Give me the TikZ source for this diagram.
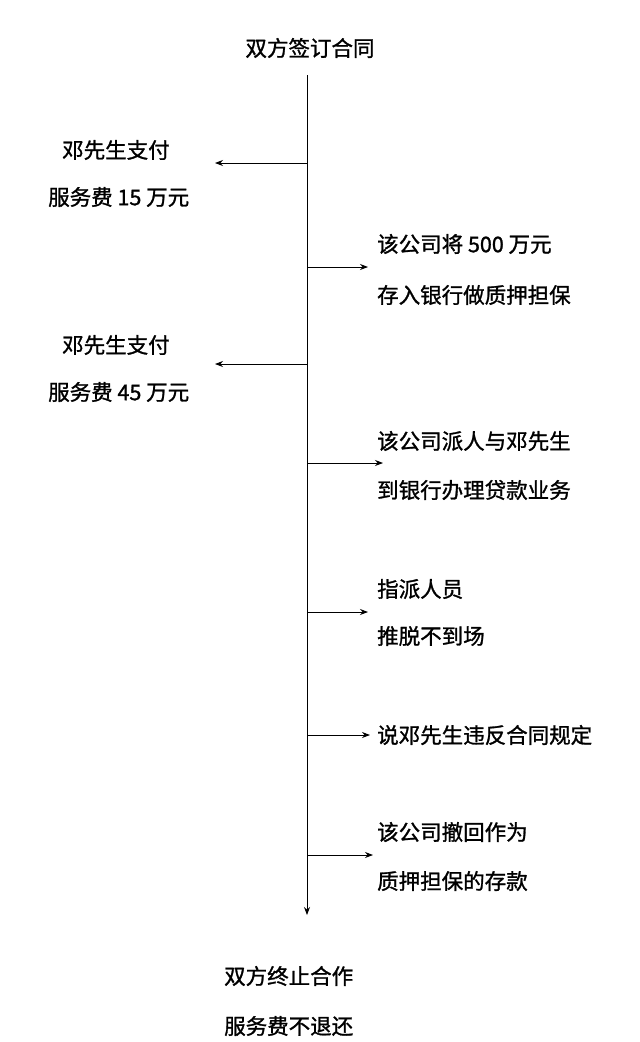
\documentclass[tikz,border=0pt]{standalone}
\usepackage{fontspec}
\usetikzlibrary{arrows.meta}
\newfontfamily\cjk[FakeBold=1.2]{Noto Sans CJK SC}
\begin{document}
\begin{tikzpicture}[x=1pt,y=-1pt,
  lbl/.style={font=\cjk\fontsize{21.5}{21.5}\selectfont, anchor=west, inner sep=0pt},
  arr/.style={-{Stealth[length=8pt,width=6pt]}, line width=0.8pt}]
\useasboundingbox (0,0) rectangle (640,1042);
\node[lbl,anchor=center] (top) at (310,48) {双方签订合同};
\coordinate (s) at (307,75);
\coordinate (e) at (307,915);
\draw[arr] (s) -- (e);
\foreach \y/\x [count=\i] in {163/215,267/368,364/215,463/383,612/368,735/370,855/373}{
  \coordinate (p\i) at (307,\y);
  \coordinate (q\i) at (\x,\y);
  \draw[arr] (p\i) -- (q\i);
}
\node[lbl] (a1) at (62,150) {邓先生支付};
\node[lbl] (a2) at (48,197) {服务费 15 万元};
\node[lbl] (b1) at (377,244) {该公司将 500 万元};
\node[lbl] (b2) at (377,295) {存入银行做质押担保};
\node[lbl] (c1) at (62,345) {邓先生支付};
\node[lbl] (c2) at (48,392) {服务费 45 万元};
\node[lbl] (d1) at (377,441) {该公司派人与邓先生};
\node[lbl] (d2) at (377,490) {到银行办理贷款业务};
\node[lbl] (f1) at (377,589) {指派人员};
\node[lbl] (f2) at (377,636) {推脱不到场};
\node[lbl] (g1) at (377,735) {说邓先生违反合同规定};
\node[lbl] (h1) at (377,832) {该公司撤回作为};
\node[lbl] (h2) at (377,881) {质押担保的存款};
\node[lbl] (i1) at (224,976) {双方终止合作};
\node[lbl] (i2) at (224,1026) {服务费不退还};
\end{tikzpicture}
\end{document}
